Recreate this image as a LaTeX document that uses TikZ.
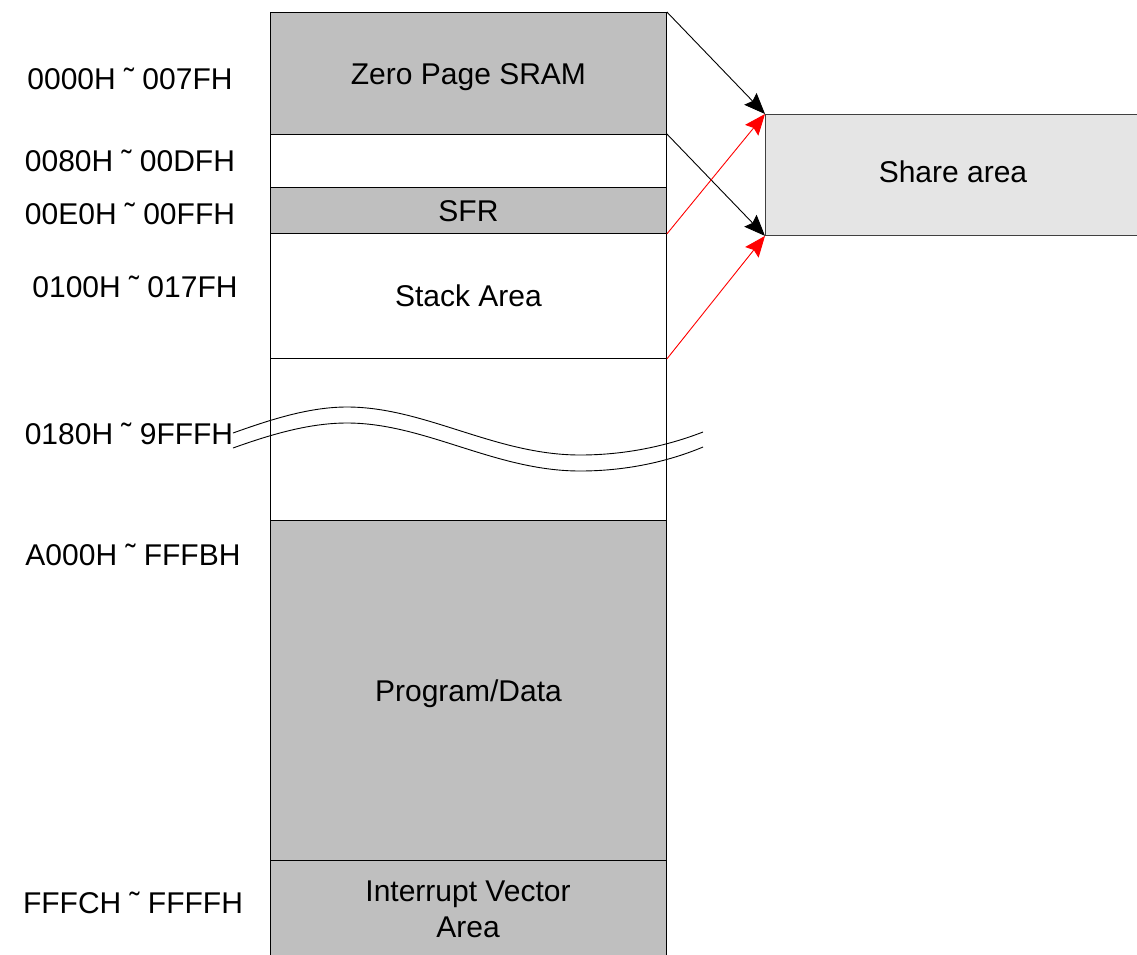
\documentclass[tikz,border=0pt]{standalone}
\usepackage{fontspec}
\setmainfont{Liberation Sans}
\usetikzlibrary{arrows.meta}

\begin{document}
\begin{tikzpicture}[x=1pt,y=-1pt,
  txt/.style={font=\fontsize{30}{37}\selectfont, text height=21.5pt, text depth=0pt, inner sep=0pt},
  memrow/.style={draw=black, line width=0.9pt, minimum width=396pt, anchor=north west,
                 inner sep=0pt, align=center, txt},
  graycell/.style={memrow, fill=black!25},
  whitecell/.style={memrow, fill=white},
  addr/.style={txt, anchor=center},
  blk/.style={-{Stealth[length=21pt,width=17pt,inset=3pt]}, line width=0.9pt, black},
  redarr/.style={-{Stealth[length=21pt,width=17pt,inset=3pt]}, line width=0.9pt, red},
  brk/.style={line width=0.9pt, black}
]
\clip (0,0) rectangle (1137,954);

% memory map column
\node[graycell,  minimum height=122pt] (zp)    at (270,12)  {Zero Page SRAM};
\node[whitecell, minimum height=53pt]  (gap)   at (270,134) {};
\node[graycell,  minimum height=46pt]  (sfr)   at (270,187) {SFR};
\node[whitecell, minimum height=125pt] (stack) at (270,233) {Stack Area};
\node[whitecell, minimum height=162pt] (free)  at (270,358) {};
\node[graycell,  minimum height=340pt] (prog)  at (270,520) {Program/Data};
\node[graycell,  minimum height=98pt] (ivec) at (270,860) {};
\node[txt] (ivec1) at (468,891) {Interrupt Vector};
\node[txt] (ivec2) at (468,927) {Area};

% shared window
\node[draw=black!75, line width=0.9pt, fill=black!10, minimum width=380pt, minimum height=121pt,
      anchor=north west, inner sep=0pt] (share) at (765,114) {};
\node[txt] (sharetxt) at (953,172) {Share area};

% address ranges
\node[addr] (a1) at (130,79)  {0000H ˜ 007FH};
\node[addr] (a2) at (130,161) {0080H ˜ 00DFH};
\node[addr] (a3) at (130,214) {00E0H ˜ 00FFH};
\node[addr] (a4) at (135,287) {0100H ˜ 017FH};
\node[addr] (a5) at (129,434) {0180H ˜ 9FFFH};
\node[addr] (a6) at (133,555) {A000H ˜ FFFBH};
\node[addr] (a7) at (133,903) {FFFCH ˜ FFFFH};

% break marks across the unused range
\draw[brk] (233,433) .. controls (272,419) and (310,407) .. (347,407)
                     .. controls (425,407) and (495,455) .. (580,455)
                     .. controls (630,455) and (672,444) .. (703,432);
\draw[brk] (233,448) .. controls (272,434) and (310,423) .. (347,423)
                     .. controls (425,423) and (495,471) .. (580,471)
                     .. controls (630,471) and (672,460) .. (703,447);

% mapping arrows
\draw[blk] (zp.north east) -- (share.north west);
\draw[blk] (gap.north east) -- (share.south west);
\draw[redarr] (sfr.south east) -- (share.north west);
\draw[redarr] (stack.south east) -- (share.south west);
\end{tikzpicture}
\end{document}
